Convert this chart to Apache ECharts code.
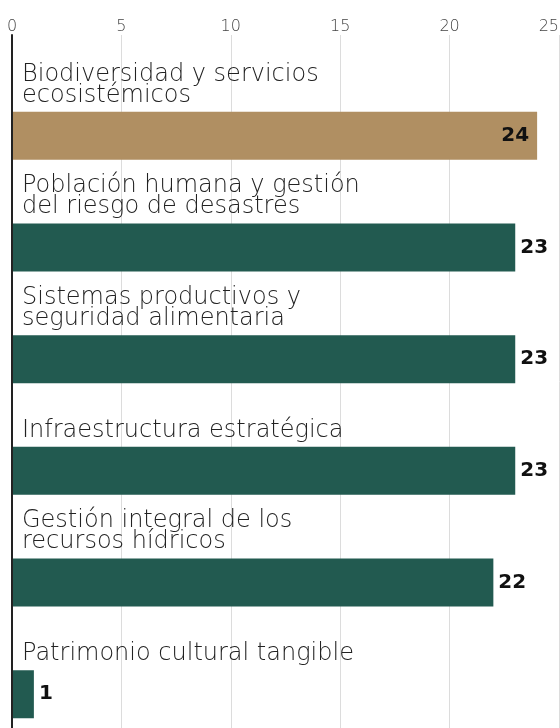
<!DOCTYPE html>
<html>
<head>
<meta charset="utf-8">
<script src="https://cdn.jsdelivr.net/npm/echarts@6/dist/echarts.min.js"></script>
<style>
  html, body { margin: 0; padding: 0; background: #fff; }
  #chart { width: 560px; height: 728px; }
</style>
</head>
<body>
<div id="chart"></div>
<script>
var categories = [
    'Biodiversidad y servicios\necosistémicos',
    'Población humana y gestión\ndel riesgo de desastres',
    'Sistemas productivos y\nseguridad alimentaria',
    'Infraestructura estratégica',
    'Gestión integral de los\nrecursos hídricos',
    'Patrimonio cultural tangible'
];
var values = [24, 23, 23, 23, 22, 1];
var barColors = ['#b08f62', '#225a50', '#225a50', '#225a50', '#225a50', '#225a50'];
var axisMax = 25;
var tickStep = 5;

var myChart = echarts.init(document.getElementById('chart'));

var labelFont = 'DejaVu Sans';

option = {
    animation: false,
    grid: [
        { left: 12, right: 1, top: 35, bottom: 0, outerBoundsMode: 'none' },
        // bars sit low in each band, the category text fills the space above them
        { left: 12, right: 1, top: 80, bottom: -22, outerBoundsMode: 'none' }
    ],
    xAxis: [
        {
            gridIndex: 0, type: 'value', position: 'top',
            min: 0, max: axisMax, interval: tickStep,
            axisLine: { show: false },
            axisTick: { show: false },
            axisLabel: {
                color: '#444', fontSize: 16, fontFamily: labelFont, fontWeight: 200,
                margin: 0, alignMaxLabel: 'right'
            },
            splitLine: { lineStyle: { color: '#dcdcdc', width: 1 } }
        },
        { gridIndex: 1, type: 'value', min: 0, max: axisMax, show: false }
    ],
    yAxis: [
        {
            gridIndex: 0, type: 'value', z: 5,
            axisLine: { show: true, lineStyle: { color: '#222', width: 2 } },
            axisTick: { show: false },
            axisLabel: { show: false },
            splitLine: { show: false }
        },
        {
            gridIndex: 1, type: 'category', inverse: true, data: categories,
            axisLine: { show: false },
            axisTick: { show: false },
            axisLabel: {
                inside: true, margin: 10, align: 'left', verticalAlign: 'bottom',
                color: '#222', fontSize: 24, fontFamily: labelFont, fontWeight: 200,
                lineHeight: 21, padding: [0, 0, 30, 0]
            }
        }
    ],
    series: [{
        type: 'bar',
        xAxisIndex: 1,
        yAxisIndex: 1,
        barWidth: 48,
        data: values.map(function (v, i) {
            var inside = v >= axisMax - 1;
            return {
                value: v,
                itemStyle: { color: barColors[i] },
                label: { position: inside ? 'insideRight' : 'right', distance: inside ? 8 : 5 }
            };
        }),
        label: {
            show: true,
            color: '#111', fontSize: 20, fontWeight: 'bold', fontFamily: labelFont
        }
    }]
};
myChart.setOption(option);
</script>
</body>
</html>
